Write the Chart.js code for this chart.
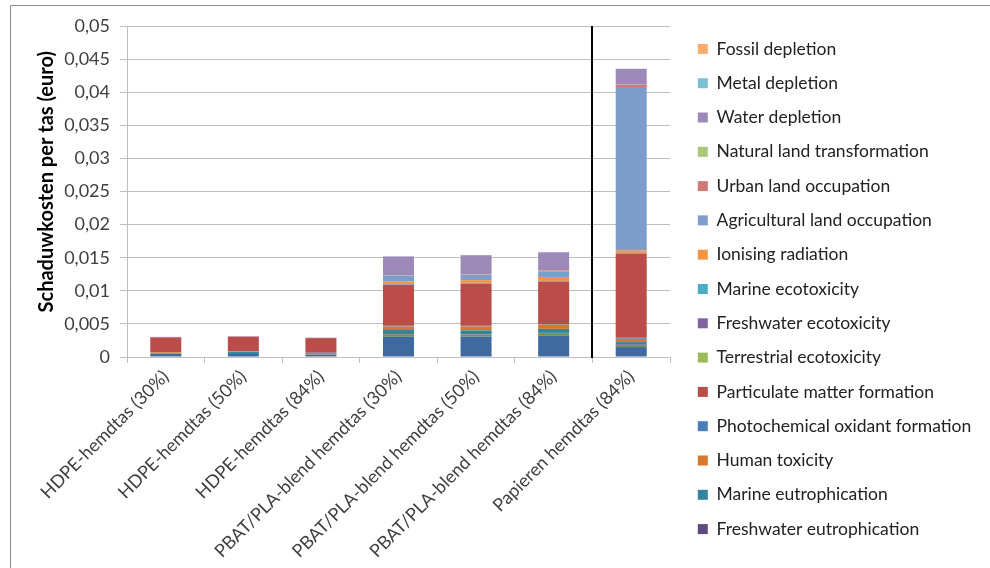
<!DOCTYPE html>
<html>
<head>
<meta charset="utf-8">
<script src="https://cdn.jsdelivr.net/npm/chart.js@4.4.1/dist/chart.umd.min.js"></script>
<style>
  html, body { margin: 0; padding: 0; background: #fff; }
</style>
</head>
<body>
<canvas id="myChart" width="990" height="568"></canvas>
<script>
// categorieen
const labels = ['HDPE-hemdtas (30%)', 'HDPE-hemdtas (50%)', 'HDPE-hemdtas (84%)',
  'PBAT/PLA-blend hemdtas (30%)', 'PBAT/PLA-blend hemdtas (50%)', 'PBAT/PLA-blend hemdtas (84%)',
  'Papieren hemdtas (84%)'];

// y-as ticks
const yTicks = [0, 0.005, 0.01, 0.015, 0.02, 0.025, 0.03, 0.035, 0.04, 0.045, 0.05];

// waarden per impactcategorie (onderaan gestapeld eerst)
const climateChange      = [0.00045, 0.00045, 0.00035, 0.00307, 0.00307, 0.0032, 0.0015];
const terrAcidification  = [0, 0, 0, 0.0003, 0.0003, 0.0004, 0.0003];
const freshwaterEutro    = [0, 0, 0, 0.00005, 0.00005, 0.00005, 0.0001];
const marineEutro        = [0.00005, 0.0003, 0.00005, 0.00065, 0.0006, 0.0006, 0.00035];
const humanToxicity      = [0.0002, 0.00005, 0.0002, 0.00055, 0.0006, 0.00065, 0.0005];
const photochemical      = [0.00005, 0.00005, 0.00005, 0.0001, 0.0001, 0.0001, 0.00015];
const particulate        = [0.00222, 0.00222, 0.0022, 0.0062, 0.0064, 0.0064, 0.01274];
const terrEcotox         = [0, 0, 0, 0.00003, 0.00003, 0.00003, 0.00003];
const freshwaterEcotox   = [0, 0, 0, 0.00003, 0.00003, 0.00003, 0.00003];
const marineEcotox       = [0, 0, 0, 0.00003, 0.00003, 0.00003, 0.00003];
const ionising           = [0, 0, 0, 0.00045, 0.0004, 0.0006, 0.00035];
const agricultural       = [0.00002, 0.00002, 0.00002, 0.00085, 0.0008, 0.0008, 0.0247];
const urban              = [0, 0, 0, 0.00005, 0.00005, 0.0002, 0.00035];
const naturalLand        = [0, 0, 0, 0.00002, 0.00002, 0.00002, 0.00002];
const water              = [0.00005, 0.00005, 0.00005, 0.0028, 0.0029, 0.0027, 0.00237];
const metal              = [0, 0, 0, 0.00003, 0.00003, 0.00005, 0.00003];
const fossil             = [-0.0002, 0, 0, 0, 0, 0, 0];

const FONT = "Lato, 'Open Sans', sans-serif";

// niet in de legenda getoond (legenda is afgekapt)
const hiddenInLegend = ['Climate change', 'Terrestrial acidification'];

const series = [
  ['Climate change', climateChange, '#3F6A9F'],
  ['Terrestrial acidification', terrAcidification, '#72904C'],
  ['Freshwater eutrophication', freshwaterEutro, '#5E4A7E'],
  ['Marine eutrophication', marineEutro, '#31859C'],
  ['Human toxicity', humanToxicity, '#D9772F'],
  ['Photochemical oxidant formation', photochemical, '#4A7EBB'],
  ['Particulate matter formation', particulate, '#BA4C49'],
  ['Terrestrial ecotoxicity', terrEcotox, '#9BBB59'],
  ['Freshwater ecotoxicity', freshwaterEcotox, '#8064A2'],
  ['Marine ecotoxicity', marineEcotox, '#4BACC6'],
  ['Ionising radiation', ionising, '#F59340'],
  ['Agricultural land occupation', agricultural, '#7F9DCB'],
  ['Urban land occupation', urban, '#D07A78'],
  ['Natural land transformation', naturalLand, '#ABC77B'],
  ['Water depletion', water, '#9D89B8'],
  ['Metal depletion', metal, '#7CC0D5'],
  ['Fossil depletion', fossil, '#F9AB6E']
];

const datasets = series.map(([label, data, color]) => ({
  label: label,
  data: data,
  backgroundColor: color,
  borderWidth: 0,
  barPercentage: 0.4,
  categoryPercentage: 1.0
}));

// rand van de grafiek + scheidingslijn voor papieren tas
const extras = {
  id: 'extras',
  afterInit(chart) {
    const lg = chart.legend;
    const fit = lg.fit.bind(lg);
    lg.fit = function () { fit(); this.width = 320; };
  },
  afterLayout(chart) {
    const lg = chart.legend;
    lg.left += 11; lg.right += 11;
    lg.top -= 8; lg.bottom -= 8;
  },
  afterDatasetsDraw(chart) {
    const {ctx, chartArea, scales: {x}} = chart;
    const sx = Math.round((x.getPixelForValue(5) + x.getPixelForValue(6)) / 2);
    ctx.save();
    ctx.strokeStyle = '#000';
    ctx.lineWidth = 2;
    ctx.beginPath();
    ctx.moveTo(sx, chartArea.top);
    ctx.lineTo(sx, chartArea.bottom + 1);
    ctx.stroke();
    ctx.restore();
  },
  afterDraw(chart) {
    const ctx = chart.ctx;
    ctx.save();
    ctx.strokeStyle = '#8C8C8C';
    ctx.lineWidth = 1;
    ctx.beginPath();
    ctx.moveTo(10.5, 600);
    ctx.lineTo(10.5, 5.5);
    ctx.lineTo(1000, 5.5);
    ctx.stroke();
    ctx.restore();
  }
};

const ctx = document.getElementById('myChart').getContext('2d');
const myChart = new Chart(ctx, {
  type: 'bar',
  data: { labels: labels, datasets: datasets },
  plugins: [extras],
  options: {
    responsive: false,
    animation: false,
    layout: { padding: { top: 26, left: 10, right: 0, bottom: 0 } },
    plugins: {
      tooltip: { enabled: false },
      legend: {
        position: 'right',
        reverse: true,
        labels: {
          filter: (item) => !hiddenInLegend.includes(item.text),
          boxWidth: 10,
          boxHeight: 10,
          padding: 16.8,
          color: '#222',
          font: { family: FONT, size: 17.5 }
        }
      }
    },
    scales: {
      x: {
        stacked: true,
        afterFit: (scale) => { scale.height = 211; },
        border: { color: '#BFBFBF' },
        grid: { drawOnChartArea: false, drawTicks: true, tickLength: 6, offset: true, color: '#BFBFBF' },
        ticks: {
          minRotation: 45,
          maxRotation: 45,
          autoSkip: false,
          color: '#404040',
          font: { family: FONT, size: 18 }
        }
      },
      y: {
        stacked: true,
        min: 0,
        max: 0.05,
        afterFit: (scale) => { scale.width = 117; },
        afterBuildTicks: (scale) => { scale.ticks = yTicks.map(v => ({ value: v })); },
        border: { color: '#BFBFBF' },
        grid: { color: '#BFBFBF', tickLength: 7 },
        ticks: {
          padding: 10,
          color: '#404040',
          font: { family: FONT, size: 18 },
          callback: (v) => String(Number(v.toFixed(3))).replace('.', ',')
        },
        title: {
          display: true,
          text: '\u00a0\u00a0\u00a0\u00a0Schaduwkosten per tas (euro)',
          color: '#000',
          padding: { top: 25, bottom: 0 },
          font: { family: FONT, size: 20, weight: 'bold' }
        }
      }
    }
  }
});
</script>
</body>
</html>
